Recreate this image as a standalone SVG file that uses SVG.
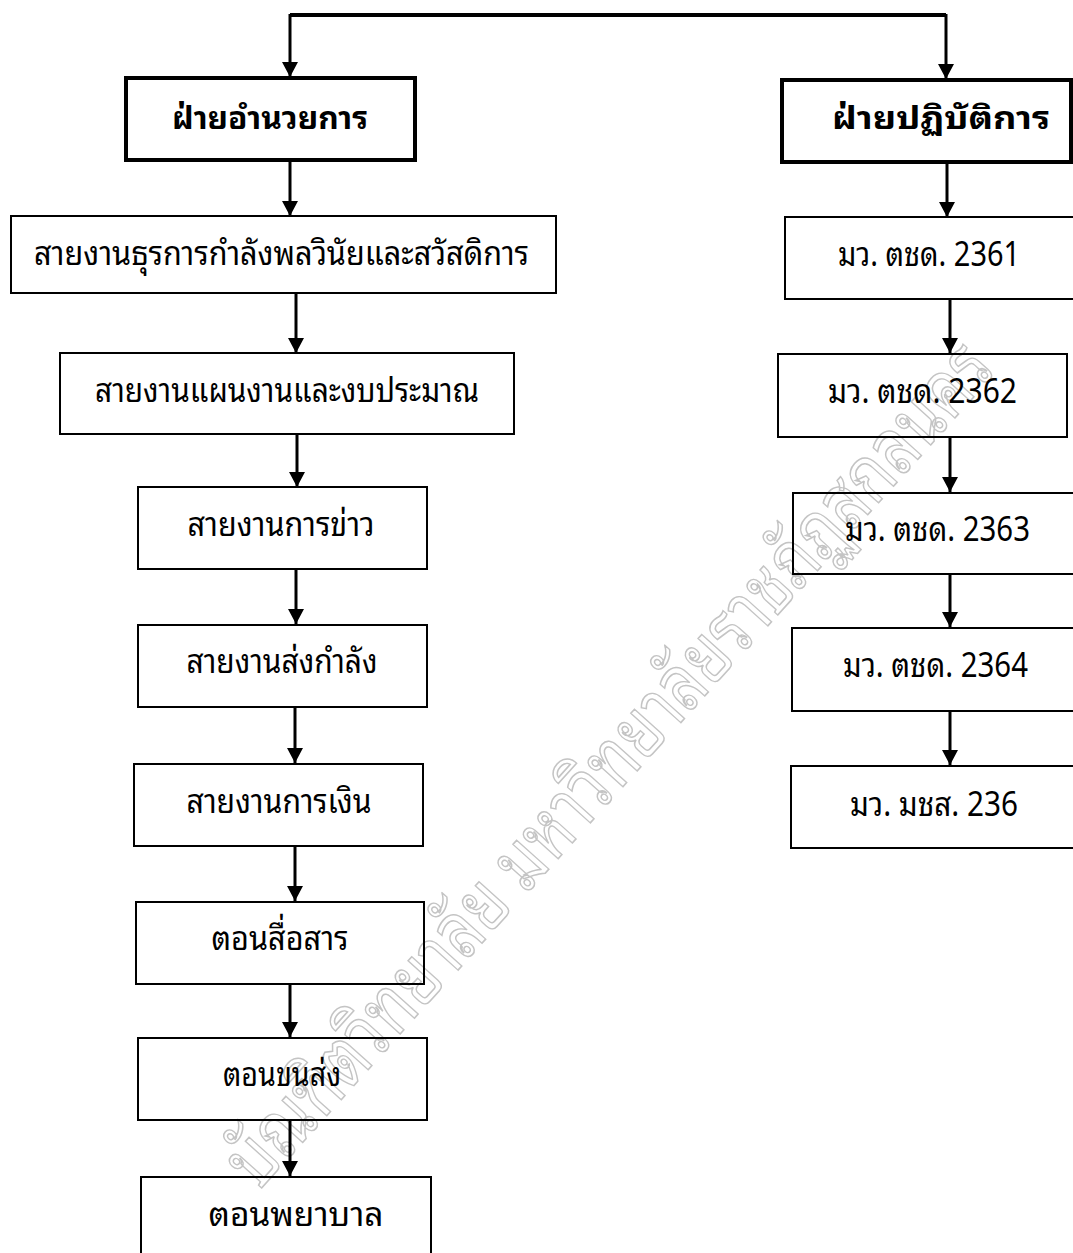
<svg xmlns="http://www.w3.org/2000/svg" width="1073" height="1253" viewBox="0 0 1073 1253">
<style>
.box{fill:none;stroke:#000;stroke-width:2}
.hbox{fill:none;stroke:#000;stroke-width:4}
.lbl{font-family:"Noto Sans Thai Looped","Noto Sans Thai","Noto Sans","DejaVu Sans",sans-serif;font-size:34px;fill:#000;text-anchor:middle}
.hl{font-weight:bold;font-size:32px}
.con{fill:none;stroke:#000;stroke-width:3}
.wm{font-family:"Noto Sans Thai Looped","Noto Sans Thai","Noto Sans","DejaVu Sans",sans-serif;font-size:78px;fill:none;stroke:#c4c4c4;stroke-width:1.6}
</style>
<defs>
<marker id="ah" markerUnits="userSpaceOnUse" markerWidth="16" markerHeight="16" refX="15" refY="8" orient="auto">
<path d="M0,0 L15,8 L0,16 z" fill="#000"/>
</marker>
</defs>
<rect width="1073" height="1253" fill="#fff"/>
<g id="watermark">
<text class="wm" transform="translate(258,1192) rotate(-48)" textLength="1105" lengthAdjust="spacingAndGlyphs">บัณฑิตวิทยาลัย มหาวิทยาลัยราชภัฏสกลนคร</text>
</g>
<g id="connectors">
<path d="M290,15 H946" stroke="#000" stroke-width="4" fill="none"/>
<path class="con" d="M290,14 V77" marker-end="url(#ah)"/>
<path class="con" d="M946,14 V79" marker-end="url(#ah)"/>
<path class="con" d="M290,162 V216" marker-end="url(#ah)"/>
<path class="con" d="M947,164 V217" marker-end="url(#ah)"/>
<path class="con" d="M296,294 V353" marker-end="url(#ah)"/>
<path class="con" d="M297,435 V487" marker-end="url(#ah)"/>
<path class="con" d="M296,570 V624" marker-end="url(#ah)"/>
<path class="con" d="M295,708 V763" marker-end="url(#ah)"/>
<path class="con" d="M295,847 V901" marker-end="url(#ah)"/>
<path class="con" d="M290,985 V1037" marker-end="url(#ah)"/>
<path class="con" d="M290,1121 V1176" marker-end="url(#ah)"/>
<path class="con" d="M950,300 V353" marker-end="url(#ah)"/>
<path class="con" d="M950,438 V492" marker-end="url(#ah)"/>
<path class="con" d="M950,575 V627" marker-end="url(#ah)"/>
<path class="con" d="M950,712 V765" marker-end="url(#ah)"/>
</g>
<g id="node-admin">
<rect class="hbox" x="126" y="78" width="289" height="82"/>
<text class="lbl hl" x="270" y="129" textLength="196" lengthAdjust="spacingAndGlyphs">ฝ่ายอำนวยการ</text>
</g>
<g id="node-ops">
<rect class="hbox" x="782" y="80" width="289" height="82"/>
<text class="lbl hl" x="941" y="129" textLength="218" lengthAdjust="spacingAndGlyphs">ฝ่ายปฏิบัติการ</text>
</g>
<g id="node-personnel">
<rect class="box" x="11" y="216" width="545" height="77"/>
<text class="lbl" x="281.5" y="265" textLength="495" lengthAdjust="spacingAndGlyphs">สายงานธุรการกำลังพลวินัยและสวัสดิการ</text>
</g>
<g id="node-plans">
<rect class="box" x="60" y="353" width="454" height="81"/>
<text class="lbl" x="287" y="402" textLength="384" lengthAdjust="spacingAndGlyphs">สายงานแผนงานและงบประมาณ</text>
</g>
<g id="node-intel">
<rect class="box" x="138" y="487" width="289" height="82"/>
<text class="lbl" x="281" y="536" textLength="187" lengthAdjust="spacingAndGlyphs">สายงานการข่าว</text>
</g>
<g id="node-logistics">
<rect class="box" x="138" y="625" width="289" height="82"/>
<text class="lbl" x="282" y="673" textLength="191" lengthAdjust="spacingAndGlyphs">สายงานส่งกำลัง</text>
</g>
<g id="node-finance">
<rect class="box" x="134" y="764" width="289" height="82"/>
<text class="lbl" x="279" y="813" textLength="185" lengthAdjust="spacingAndGlyphs">สายงานการเงิน</text>
</g>
<g id="node-comms">
<rect class="box" x="136" y="902" width="288" height="82"/>
<text class="lbl" x="280" y="950" textLength="137" lengthAdjust="spacingAndGlyphs">ตอนสื่อสาร</text>
</g>
<g id="node-transport">
<rect class="box" x="138" y="1038" width="289" height="82"/>
<text class="lbl" x="282" y="1086" textLength="118" lengthAdjust="spacingAndGlyphs">ตอนขนส่ง</text>
</g>
<g id="node-medical">
<rect class="box" x="141" y="1177" width="290" height="100"/>
<text class="lbl" x="296" y="1226" textLength="175" lengthAdjust="spacingAndGlyphs">ตอนพยาบาล</text>
</g>
<g id="node-2361">
<rect class="box" x="785" y="217" width="300" height="82"/>
<text class="lbl" x="929" y="266" textLength="182" lengthAdjust="spacingAndGlyphs">มว. ตชด. 2361</text>
</g>
<g id="node-2362">
<rect class="box" x="778" y="354" width="289" height="83"/>
<text class="lbl" x="922.5" y="403" textLength="189" lengthAdjust="spacingAndGlyphs">มว. ตชด. 2362</text>
</g>
<g id="node-2363">
<rect class="box" x="793" y="493" width="300" height="81"/>
<text class="lbl" x="937.5" y="541" textLength="185" lengthAdjust="spacingAndGlyphs">มว. ตชด. 2363</text>
</g>
<g id="node-2364">
<rect class="box" x="792" y="628" width="300" height="83"/>
<text class="lbl" x="935.5" y="677" textLength="185" lengthAdjust="spacingAndGlyphs">มว. ตชด. 2364</text>
</g>
<g id="node-236">
<rect class="box" x="791" y="766" width="300" height="82"/>
<text class="lbl" x="934" y="816" textLength="168" lengthAdjust="spacingAndGlyphs">มว. มชส. 236</text>
</g>
</svg>
